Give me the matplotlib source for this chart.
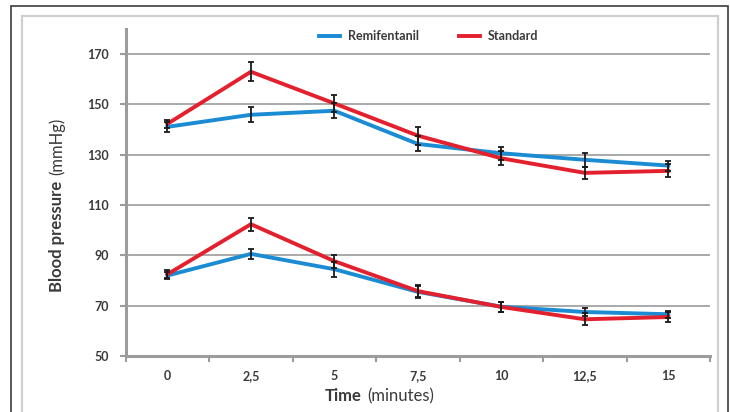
import matplotlib.pyplot as plt
from matplotlib.patches import Rectangle

# data
time_labels = ['0', '2,5', '5', '7,5', '10', '12,5', '15']

remi_sys = [141.1, 145.9, 147.5, 134.3, 130.6, 128.0, 125.7]
remi_sys_err = [2.0, 3.0, 3.0, 3.0, 2.6, 2.9, 2.0]
std_sys = [142.3, 163.0, 150.4, 137.6, 128.6, 122.8, 123.6]
std_sys_err = [1.5, 3.7, 3.4, 3.6, 2.8, 2.4, 2.6]

remi_dia = [82.0, 90.6, 84.5, 75.5, 69.6, 67.5, 66.6]
remi_dia_err = [1.5, 2.1, 3.0, 2.5, 2.0, 1.7, 1.3]
std_dia = [82.5, 102.4, 87.7, 75.8, 69.5, 64.6, 65.5]
std_dia_err = [1.5, 2.6, 2.6, 2.5, 2.0, 2.3, 2.0]

blue = '#1b8bd3'
red = '#e3202d'
txt = '#3a3a3a'
gray = '#a3a3a3'

plt.rcParams['font.family'] = ['Lato', 'DejaVu Sans']

W, H = 730, 412
fig = plt.figure(figsize=(W / 100, H / 100), dpi=100)

# frames around the figure
fig.patches.append(Rectangle((11 / W, -0.05), (728 - 11) / W, (H - 6) / H + 0.05,
                             transform=fig.transFigure, fill=False, edgecolor='#3c3c3c', lw=1.2))
fig.patches.append(Rectangle((22 / W, -0.05), (718 - 22) / W, (H - 16) / H + 0.05,
                             transform=fig.transFigure, fill=False, edgecolor='#cfcfcf', lw=1.6))

ax = fig.add_axes([125.7 / W, 1 - 356 / H, (710 - 125.7) / W, (356 - 29) / H])
x = list(range(len(time_labels)))

ax.plot(x, remi_sys, color=blue, lw=2.8, label='Remifentanil', zorder=3)
ax.plot(x, std_sys, color=red, lw=2.8, label='Standard', zorder=4)
ax.plot(x, remi_dia, color=blue, lw=2.8, zorder=3)
ax.plot(x, std_dia, color=red, lw=2.8, zorder=4)

for vals, errs in [(remi_sys, remi_sys_err), (std_sys, std_sys_err),
                   (remi_dia, remi_dia_err), (std_dia, std_dia_err)]:
    ax.errorbar(x, vals, yerr=errs, fmt='none', ecolor='#1a1a1a', elinewidth=1.3,
                capsize=2.5, capthick=1.3, zorder=5)

ax.set_xlim(-0.5, len(time_labels) - 0.5)
ax.set_ylim(50, 180)
ax.set_yticks([50, 70, 90, 110, 130, 150, 170])
ax.set_xticks(x)
ax.set_xticklabels(time_labels)
ax.set_xticks([i - 0.5 for i in range(len(time_labels) + 1)], minor=True)

ax.grid(axis='y', color=gray, lw=1.3)
ax.set_axisbelow(True)
for s in ['top', 'right']:
    ax.spines[s].set_visible(False)
for s in ['left', 'bottom']:
    ax.spines[s].set_color('#9c9c9c')
    ax.spines[s].set_linewidth(2.2)

ax.tick_params(axis='y', length=4, width=1.5, color='#9c9c9c', pad=8,
               labelsize=9, labelcolor=txt)
ax.tick_params(axis='x', which='major', length=0, pad=10, labelsize=9, labelcolor=txt)
ax.tick_params(axis='x', which='minor', length=4, width=1.5, color='#9c9c9c')
for lab in ax.get_xticklabels() + ax.get_yticklabels():
    lab.set_fontweight('bold')

# axis titles, bold first word(s) and regular units
yl = fig.text(57 / W, 1 - 292 / H, 'Blood pressure', rotation=90, ha='center', va='bottom',
              fontsize=12, fontweight='bold', color=txt)
ax.annotate('(mmHg)', xy=(0.5, 1), xycoords=yl, xytext=(0, 4), textcoords='offset points',
            rotation=90, ha='center', va='bottom', fontsize=12, color=txt)
xl = fig.text(325 / W, 1 - 396 / H, 'Time', ha='left', va='center',
              fontsize=12, fontweight='bold', color=txt)
ax.annotate('(minutes)', xy=(1, 0.5), xycoords=xl, xytext=(4, 0), textcoords='offset points',
            ha='left', va='center', fontsize=12, color=txt)

leg = fig.legend(loc='center', bbox_to_anchor=(0.587, 1 - 36 / H), ncol=2, frameon=False,
                 handlelength=1.7, columnspacing=3.2, handletextpad=0.6,
                 prop={'size': 9, 'weight': 'bold'})
for t in leg.get_texts():
    t.set_color(txt)

fig.savefig('out.png', dpi=100)
